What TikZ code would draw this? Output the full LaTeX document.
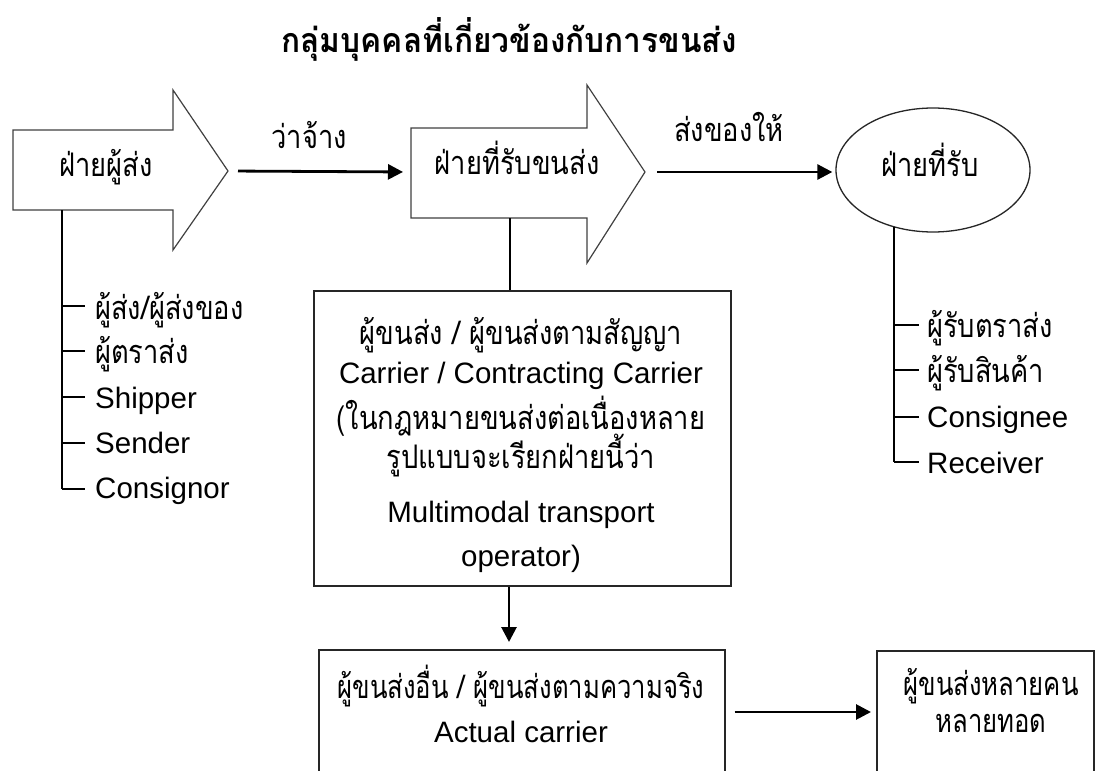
\documentclass[tikz,border=0pt]{standalone}
\usepackage{fontspec}
\setmainfont{Liberation Sans}
\newfontfamily\thai[Script=Thai, FakeStretch=0.84]{Loma}
\newfontfamily\thaititle[Script=Thai, FakeStretch=0.93]{Loma}
\newfontfamily\thainarrow[Script=Thai, FakeStretch=0.79]{Loma}
\usetikzlibrary{arrows.meta,shapes.geometric}
\tikzset{
  bigarrow/.style={draw=black!75, line width=1.2pt, fill=white, line join=miter},
  conn/.style={draw=black, line width=2.8pt, -{Triangle[length=15pt,width=15pt]}},
  boxed/.style={draw=black!85, line width=1.5pt, inner sep=0pt},
  txt/.style={font=\fontsize{29.5}{34}\selectfont, inner sep=0pt},
  thtxt/.style={font=\thai\fontsize{32.5}{38}\selectfont, inner sep=0pt},
  thnarrow/.style={font=\thainarrow\fontsize{32.5}{38}\selectfont, inner sep=0pt},
  stem/.style={draw=black, line width=1.7pt},
  tickln/.style={draw=black, line width=2.8pt},
}
\begin{document}
\begin{tikzpicture}[x=1pt,y=-1pt]
\useasboundingbox (0,0) rectangle (1096,771);
\clip (0,0) rectangle (1096,771);

% title
\node[inner sep=0pt, font=\thaititle\bfseries\fontsize{34}{40}\selectfont, anchor=base] (title) at (509,52) {กลุ่มบุคคลที่เกี่ยวข้องกับการขนส่ง};

% key coordinates
\coordinate (ltip) at (228,171);
\coordinate (lbot) at (62,210);
\coordinate (mleft) at (411,172);
\coordinate (mtip) at (645,172);
\coordinate (mbot) at (510,218);
\coordinate (rtop) at (894,227);

% big arrows
\draw[bigarrow] (13,130) -- (173,130) -- (173,90) -- (ltip) -- (173,250) -- (173,210) -- (13,210) -- cycle;
\draw[bigarrow] (411,128) -- (587,128) -- (587,85) -- (mtip) -- (587,263) -- (587,218) -- (411,218) -- cycle;
\node[thtxt, anchor=base] (sender) at (106,176) {ฝ่ายผู้ส่ง};
\node[thtxt, anchor=base] (carrier) at (517,174) {ฝ่ายที่รับขนส่ง};

% receiver ellipse
\node[ellipse, draw=black!85, line width=1.3pt, minimum width=194, minimum height=124, inner sep=0pt] (rcv) at (933,170) {};
\node[thtxt, anchor=base] (rcvt) at (930,176) {ฝ่ายที่รับ};

% top connectors
\draw[conn, shorten <=10pt, shorten >=8pt] (ltip) -- (mleft);
\node[thtxt, anchor=base] (hire) at (309,148) {ว่าจ้าง};
\draw[conn, shorten <=12pt, shorten >=3pt] (mtip) -- (rcv.west |- mtip);
\node[thtxt, anchor=base] (deliver) at (729,141) {ส่งของให้};

% left list
\coordinate (lend) at (62,489);
\draw[stem] (lbot) -- (lend);
\foreach \y in {306,351,397,443,489} \draw[tickln] (62,\y) -- (85,\y);
\node[thtxt, anchor=base west] (l1) at (95,319) {ผู้ส่ง/ผู้ส่งของ};
\node[thtxt, anchor=base west] (l2) at (95,363) {ผู้ตราส่ง};
\node[txt, anchor=base west] (l3) at (95,408) {Shipper};
\node[txt, anchor=base west] (l4) at (95,453) {Sender};
\node[txt, anchor=base west] (l5) at (95,498) {Consignor};

% right list
\coordinate (rend) at (894,462);
\draw[stem] (rtop) -- (rend);
\foreach \y in {325,370,417,462} \draw[tickln] (894,\y) -- (919,\y);
\node[thtxt, anchor=base west] (r1) at (927,337) {ผู้รับตราส่ง};
\node[thtxt, anchor=base west] (r2) at (927,382) {ผู้รับสินค้า};
\node[txt, anchor=base west] (r3) at (927,427) {Consignee};
\node[txt, anchor=base west] (r4) at (927,473) {Receiver};

% contracting carrier box
\node[boxed, minimum width=417, minimum height=295, anchor=north west] (cbox) at (313,290) {};
\draw[stem] (mbot) -- (cbox.north -| mbot);
\node[thtxt, anchor=base] (c1) at (521,344) {ผู้ขนส่ง / ผู้ขนส่งตามสัญญา};
\node[txt, anchor=base] (c2) at (521,383) {Carrier / Contracting Carrier};
\node[thtxt, anchor=base] (c3) at (521,429) {(ในกฎหมายขนส่งต่อเนื่องหลาย};
\node[thtxt, anchor=base] (c4) at (521,468) {รูปแบบจะเรียกฝ่ายนี้ว่า};
\node[txt, anchor=base] (c5) at (521,522) {Multimodal transport};
\node[txt, anchor=base] (c6) at (521,566) {operator)};

% actual carrier box
\node[boxed, minimum width=406, minimum height=160, anchor=north west] (abox) at (318,649) {};
\draw[conn, shorten >=7pt] (cbox.south -| 509,0) -- (abox.north -| 509,0);
\node[thnarrow, anchor=base] (a1) at (521,698) {ผู้ขนส่งอื่น / ผู้ขนส่งตามความจริง};
\node[txt, anchor=base] (a2) at (521,742) {Actual carrier};

% multiple carriers box
\node[boxed, minimum width=217, minimum height=160, anchor=north west] (mbox) at (876,650) {};
\draw[conn, shorten <=9pt, shorten >=5pt] (abox.east |- 0,712) -- (mbox.west |- 0,712);
\node[thnarrow, anchor=base] (m1) at (991,695) {ผู้ขนส่งหลายคน};
\node[thnarrow, anchor=base] (m2) at (991,732) {หลายทอด};
\end{tikzpicture}
\end{document}
